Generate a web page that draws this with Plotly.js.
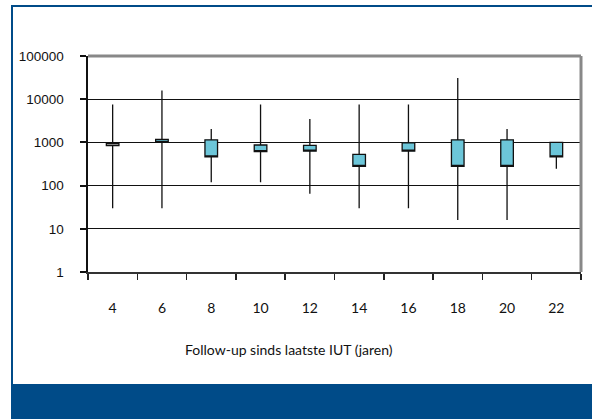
<!DOCTYPE html>
<html>
<head>
<meta charset="utf-8">
<script src="https://cdn.plot.ly/plotly-3.0.1.min.js"></script>
<style>
  html, body { margin:0; padding:0; background:#fff; }
  #wrap { position:relative; width:592px; height:419px; overflow:hidden; }
  #chart { position:absolute; left:0; top:0; width:592px; height:419px; }
  .frame-left { position:absolute; left:11px; top:5px; width:2px; height:380px; background:#004b88; }
  .frame-top { position:absolute; left:11px; top:5px; width:581px; height:2px; background:#004b88; }
  .band { position:absolute; left:11px; top:384px; width:581px; height:35px; background:#004b88; }
</style>
</head>
<body>
<div id="wrap">
  <div id="chart"></div>
  <div class="frame-left"></div>
  <div class="frame-top"></div>
  <div class="band"></div>
</div>
<script>
// Follow-up categories (years since last IUT)
const categories = ['4','6','8','10','12','14','16','18','20','22'];
// whisker high / low
const highs = [7500, 16000, 2050, 7500, 3500, 7500, 7500, 31000, 2050, 1000];
const lows  = [30, 30, 120, 120, 65, 30, 30, 16, 16, 245];
// box (open / close) - first one is an "up" box (white), others "down" (cyan)
const opens  = [840, 1180, 1150, 870, 850, 530, 980, 1150, 1150, 1000];
const closes = [975, 1000, 460, 610, 625, 280, 625, 280, 280, 460];
// y tick labels
const yTickVals = [1, 10, 100, 1000, 10000, 100000];
const yTickText = ['1', '10', '100', '1000', '10000', '100000'];
const xTitle = 'Follow-up sinds laatste IUT (jaren)';

const boundaries = categories.map((_, i) => i - 0.5).concat([categories.length - 0.5]);

const trace = {
  type: 'candlestick',
  x: categories,
  open: opens,
  high: highs,
  low: lows,
  close: closes,
  whiskerwidth: 0,
  increasing: { line: { color: '#111', width: 1.3 }, fillcolor: '#ffffff' },
  decreasing: { line: { color: '#111', width: 1.3 }, fillcolor: '#6cc6d9' },
  showlegend: false,
  hoverinfo: 'none'
};

const labelFont = { family: 'Lato, "Liberation Sans", Arial, sans-serif', size: 14, color: '#111' };

const layout = {
  width: 592, height: 419,
  margin: { l: 88, r: 11, t: 56, b: 147, pad: 0 },
  paper_bgcolor: 'rgba(0,0,0,0)',
  plot_bgcolor: '#ffffff',
  showlegend: false,
  boxgap: 0.635,
  xaxis: {
    type: 'category',
    categoryorder: 'array',
    categoryarray: categories,
    range: [-0.5, categories.length - 0.5],
    rangeslider: { visible: false },
    tickson: 'boundaries',
    ticks: 'outside', ticklen: 6, tickwidth: 1.5, tickcolor: '#222',
    ticklabelstandoff: 22,
    tickfont: labelFont,
    showgrid: false,
    showline: true, linecolor: '#333', linewidth: 2,
    zeroline: false,
    fixedrange: true
  },
  xaxis2: {
    overlaying: 'x', anchor: 'y', side: 'bottom',
    range: [-0.5, categories.length - 0.5],
    tickmode: 'array', tickvals: boundaries,
    ticks: 'inside', ticklen: 6, tickwidth: 1.5, tickcolor: '#222',
    showticklabels: false, showgrid: false, showline: false, zeroline: false
  },
  yaxis: {
    type: 'log',
    range: [0, 5],
    tickmode: 'array', tickvals: yTickVals, ticktext: yTickText,
    ticks: 'outside', ticklen: 6, tickwidth: 2, tickcolor: '#111',
    ticklabelstandoff: 13,
    tickfont: { family: '"Liberation Sans", Arial, sans-serif', size: 13.5, color: '#111' },
    showgrid: true, gridcolor: '#111', gridwidth: 1.2,
    showline: true, linecolor: '#111', linewidth: 2.5,
    zeroline: false,
    fixedrange: true
  },
  shapes: [
    { type: 'line', xref: 'paper', yref: 'paper', x0: 0, x1: 1, y0: 1, y1: 1,
      line: { color: '#888', width: 3 }, layer: 'above' },
    { type: 'line', xref: 'paper', yref: 'paper', x0: 1, x1: 1, y0: 0, y1: 1,
      line: { color: '#888', width: 3 }, layer: 'above' }
  ],
  annotations: [
    { text: xTitle, xref: 'paper', yref: 'paper', x: 0.408, y: -0.357,
      xanchor: 'center', yanchor: 'middle', showarrow: false, font: labelFont }
  ]
};

Plotly.newPlot('chart', [trace], layout, { displayModeBar: false, staticPlot: true });
</script>
</body>
</html>
